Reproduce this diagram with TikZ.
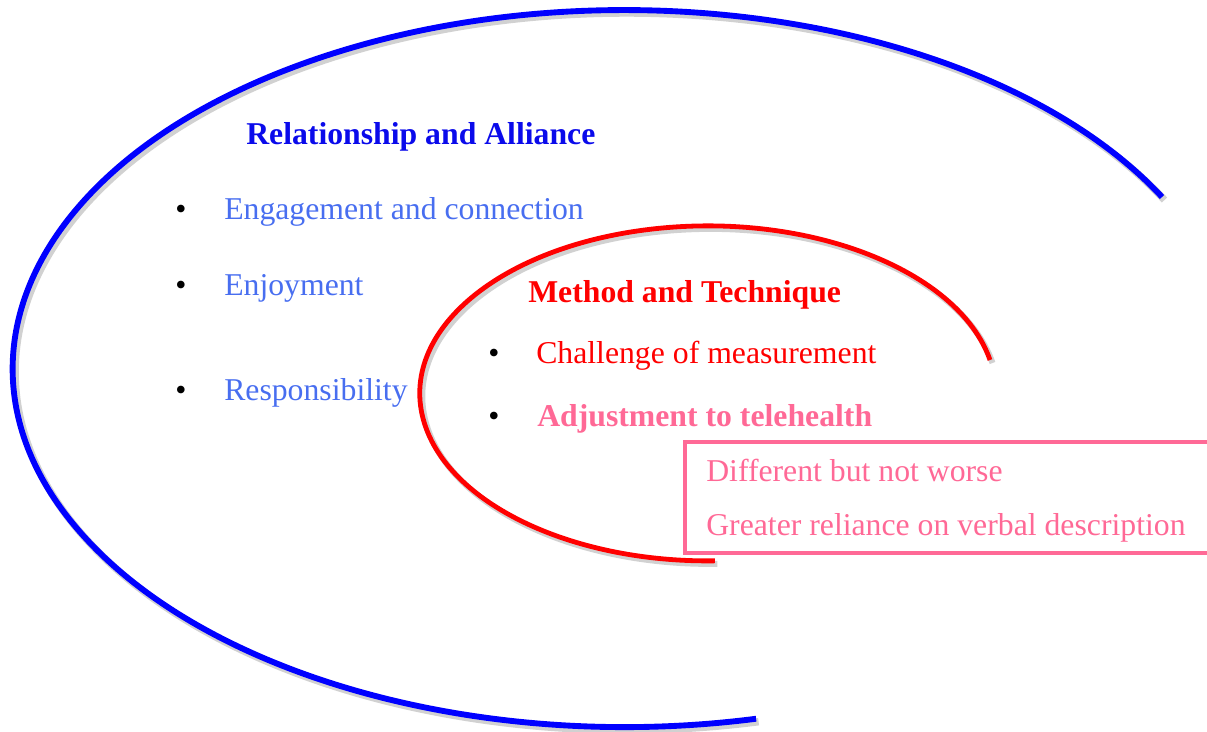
\documentclass[tikz,border=0pt]{standalone}
\usepackage{fontspec}
\setmainfont{Liberation Serif}
\definecolor{headblue}{RGB}{10,10,235}
\definecolor{itemblue}{RGB}{72,110,240}
\definecolor{itempink}{RGB}{255,105,150}

\begin{document}
\begin{tikzpicture}[x=0.75pt, y=0.75pt, font=\fontsize{23.8}{28}\selectfont,
  item/.style={anchor=base west, inner sep=0pt},
  dot/.style={anchor=base, inner sep=0pt, black},
  shade line/.style={black!40, opacity=0.45, line width=5.5pt, shift={(2.5,-3)}}]

\useasboundingbox (0,0) rectangle (1207,-732);
\clip (0,0) rectangle (1207,-732);

% outer arc
\draw[shade line] (1162,-197) arc[start angle=28.6, end angle=282.4, x radius=612, y radius=358.5];
\draw[blue, line width=4.4pt] (1162,-197) arc[start angle=28.6, end angle=282.4, x radius=612, y radius=358.5];

% inner arc
\draw[shade line, line width=4.5pt] (990,-360) arc[start angle=11.5, end angle=271.4, x radius=288, y radius=167.5];
\draw[red, line width=3.6pt] (990,-360) arc[start angle=11.5, end angle=271.4, x radius=288, y radius=167.5];

\node[item, text=headblue] (ra) at (246,-144) {\bfseries Relationship and Alliance};

\node[dot] (d1) at (181,-219) {\textbullet};
\node[dot] (d2) at (181,-295) {\textbullet};
\node[dot] (d3) at (181,-400) {\textbullet};
\node[item, text=itemblue] (eng) at (224,-219) {Engagement and connection};
\node[item, text=itemblue] (enj) at (224,-295) {Enjoyment};
\node[item, text=itemblue] (resp) at (224,-400) {Responsibility};

\node[item, text=red] (mt) at (528,-302) {\bfseries Method and Technique};

\node[dot] (d4) at (494,-363) {\textbullet};
\node[dot] (d5) at (494,-426) {\textbullet};
\node[item, text=red] (chal) at (536,-363) {Challenge of measurement};
\node[item, text=itempink] (adj) at (537,-426) {\bfseries Adjustment to telehealth};

% box
\draw[itempink, line width=2.5pt] (685,-442) rectangle (1230,-553);
\node[item, text=itempink] (diff) at (706,-481) {Different but not worse};
\node[item, text=itempink] (grt) at (706,-535) {Greater reliance on verbal description};

\end{tikzpicture}
\end{document}
